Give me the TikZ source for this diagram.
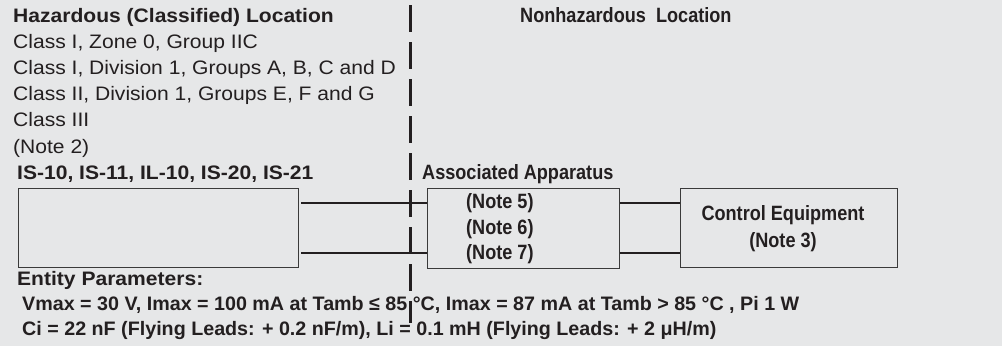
\documentclass[tikz,border=0pt]{standalone}
\usepackage{fontspec}
\setmainfont{Liberation Sans}[FakeStretch=1.08]
\newfontfamily\condfont{Liberation Sans}[FakeStretch=0.875]
\newfontfamily\midfont{Liberation Sans}[FakeStretch=1.01]
\definecolor{bg}{HTML}{E6E7E8}
\definecolor{ink}{HTML}{231F20}
\definecolor{boxline}{HTML}{3A3A3A}
\begin{document}
\begin{tikzpicture}[x=1pt,y=-1pt,
  txt/.style={anchor=base west,inner sep=0pt,text=ink,font=\fontsize{19.5}{22}\selectfont},
  btxt/.style={txt,font=\fontsize{19.5}{22}\selectfont\bfseries},
  ntxt/.style={txt,font=\fontsize{20.7}{24}\selectfont\condfont\bfseries},
  ptxt/.style={txt,font=\fontsize{19.5}{22}\selectfont\midfont\bfseries},
  ctxt/.style={ntxt,anchor=base},
  unit/.style={draw=boxline,line width=1.4pt,inner sep=0pt,anchor=north west},
  wire/.style={draw=ink,line width=1.2pt},
  border/.style={draw=ink,line width=3pt,dash pattern=on 27pt off 10pt}]
\fill[bg] (0,0) rectangle (1002,346);
\useasboundingbox (0,0) rectangle (1002,346);
% hazardous side texts
\node[btxt] (haz) at (13,22) {Hazardous (Classified) Location};
\node[txt] (c1) at (13,48) {Class I, Zone 0, Group IIC};
\node[txt] (c2) at (13,74) {Class I, Division 1, Groups A, B, C and D};
\node[txt] (c3) at (13,100) {Class II, Division 1, Groups E, F and G};
\node[txt] (c4) at (13,126) {Class III};
\node[txt] (n2) at (13,153) {(Note 2)};
\node[btxt] (models) at (17,179) {IS-10, IS-11, IL-10, IS-20, IS-21};
% nonhazardous side
\node[ntxt] (nonhaz) at (520,22) {Nonhazardous\ \ Location};
\node[ntxt] (assoc) at (422,179) {Associated Apparatus};
% boxes
\node[unit,minimum width=280pt,minimum height=79pt] (dev) at (18,188) {};
\node[unit,minimum width=192pt,minimum height=80pt] (app) at (427,188) {};
\node[unit,minimum width=217pt,minimum height=79pt] (ctrl) at (680,188) {};
\node[ntxt] (n5) at (466,208) {(Note 5)};
\node[ntxt] (n6) at (466,234) {(Note 6)};
\node[ntxt] (n7) at (466,259) {(Note 7)};
\node[ctxt] (ce) at (783,220) {Control Equipment};
\node[ctxt] (n3) at (783,247) {(Note 3)};
% wires
\draw[wire] ([xshift=2pt,yshift=-15pt]dev.north east) -- ([yshift=-15pt]app.north west);
\draw[wire] ([xshift=2pt,yshift=-65pt]dev.north east) -- ([yshift=-65pt]app.north west);
\draw[wire] ([yshift=-15pt]app.north east) -- ([yshift=-15pt]ctrl.north west);
\draw[wire] ([yshift=-65pt]app.north east) -- ([yshift=-65pt]ctrl.north west);
% entity parameters
\node[btxt] (ent) at (17,285) {Entity Parameters:};
\node[ptxt] (p1) at (22,310) {Vmax = 30 V, Imax = 100 mA at Tamb ≤ 85 °C, Imax = 87 mA at Tamb > 85 °C , Pi 1 W};
\node[ptxt] (p2) at (22,335) {Ci = 22 nF (Flying Leads: + 0.2 nF/m), Li = 0.1 mH (Flying Leads: + 2 μH/m)};
% boundary
\coordinate (btop) at (410,5);
\coordinate (bbot) at (410,323);
\draw[border] (btop) -- (bbot);
\end{tikzpicture}
\end{document}
